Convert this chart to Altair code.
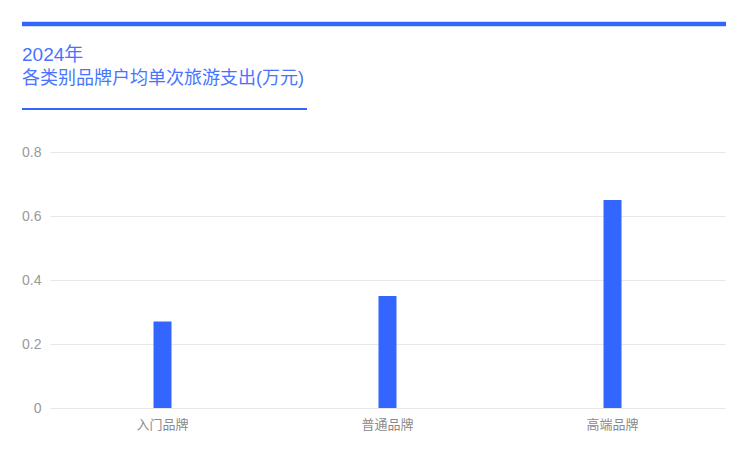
import pandas as pd
import altair as alt

# chart values
brands = ["入门品牌", "普通品牌", "高端品牌"]
spend = [0.27, 0.35, 0.65]
y_ticks = [0, 0.2, 0.4, 0.6, 0.8]
title_lines = ["2024年", "各类别品牌户均单次旅游支出(万元)"]

blue = "#3366ff"
font = "Liberation Sans, Noto Sans CJK SC"

df = pd.DataFrame({"brand": brands, "spend": spend})

bars = alt.Chart(df).mark_bar(size=18, color=blue).encode(
    x=alt.X("brand:N", sort=brands, title=None,
            axis=alt.Axis(labelAngle=0, labelColor="#8a8a8a", labelFontSize=13,
                          labelFont=font, labelPadding=10, ticks=False, domain=False)),
    y=alt.Y("spend:Q", title=None,
            scale=alt.Scale(domain=[0, 0.8], nice=False),
            axis=alt.Axis(values=y_ticks, format="~g", labelColor="#999999",
                          labelFontSize=14, labelFont=font, labelPadding=9,
                          ticks=False, domain=False, gridColor="#e8e8e8"))
)

# header: thick top bar, two title lines, thin underline
one = alt.Chart(pd.DataFrame({"k": [0]}))

top_bar = one.mark_rule(color=blue, strokeWidth=4.5).encode(
    x=alt.value(-28), x2=alt.value(676), y=alt.value(-128)
)
underline = one.mark_rule(color=blue, strokeWidth=1.8).encode(
    x=alt.value(-28), x2=alt.value(257), y=alt.value(-43)
)

title_df = pd.DataFrame({"line": title_lines})
line1 = alt.Chart(title_df.iloc[[0]]).mark_text(
    align="left", baseline="alphabetic", fontSize=19, font=font,
    color=blue, opacity=0.9
).encode(x=alt.value(-28), y=alt.value(-91), text="line:N")
line2 = alt.Chart(title_df.iloc[[1]]).mark_text(
    align="left", baseline="alphabetic", fontSize=18, font=font,
    color=blue, opacity=0.9
).encode(x=alt.value(-28), y=alt.value(-68), text="line:N")

chart = alt.layer(bars, top_bar, underline, line1, line2).properties(
    width=675,
    height=256,
    autosize=alt.AutoSizeParams(type="none"),
    padding={"left": 42, "top": 144, "right": 20, "bottom": 50},
).configure_view(stroke=None).configure_axisX(grid=False)

chart.save("out.html", embed_options={"renderer": "svg", "actions": False})
